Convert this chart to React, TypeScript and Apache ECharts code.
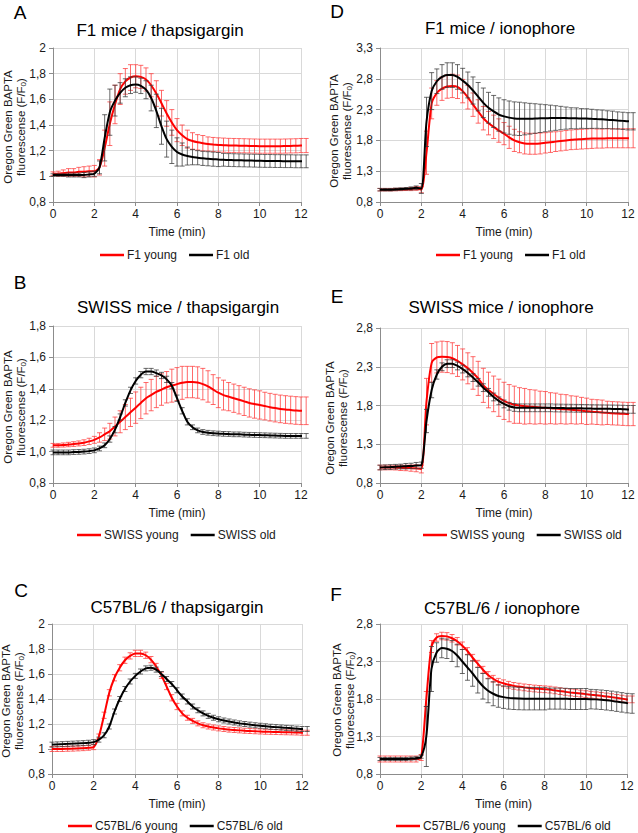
import React, { useEffect, useRef } from "react";
import * as echarts from "echarts";

const TIME = [
  0, 0.25, 0.5, 0.75, 1, 1.25, 1.5, 1.75, 2, 2.25, 2.5, 2.75, 3, 3.25, 3.5, 3.75, 4,
  4.25, 4.5, 4.75, 5, 5.25, 5.5, 5.75, 6, 6.25, 6.5, 6.75, 7, 7.25, 7.5, 7.75, 8,
  8.25, 8.5, 8.75, 9, 9.25, 9.5, 9.75, 10, 10.25, 10.5, 10.75, 11, 11.25, 11.5, 11.75, 12,
  12.25,
];

const X_TICKS = ["0", "2", "4", "6", "8", "10", "12"];
const Y_LABELS_A = ["0,8", "1", "1,2", "1,4", "1,6", "1,8", "2"];
const Y_LABELS_B = ["0,8", "1,0", "1,2", "1,4", "1,6", "1,8"];
const Y_LABELS_C = ["0,8", "1", "1,2", "1,4", "1,6", "1,8", "2"];
const Y_LABELS_D = ["0,8", "1,3", "1,8", "2,3", "2,8", "3,3"];
const Y_LABELS_E = ["0,8", "1,3", "1,8", "2,3", "2,8"];
const Y_LABELS_F = ["0,8", "1,3", "1,8", "2,3", "2,8"];

// Panel A: F1 mice / thapsigargin
const A_YOUNG = [
  1.02, 1.02, 1.025, 1.03, 1.03, 1.035, 1.035, 1.04, 1.04,
  1.07, 1.22, 1.41, 1.56, 1.68, 1.74, 1.77, 1.78,
  1.775, 1.755, 1.71, 1.645, 1.57, 1.49, 1.42, 1.36,
  1.32, 1.29, 1.275, 1.265, 1.258, 1.252, 1.248, 1.245,
  1.243, 1.241, 1.24, 1.239, 1.238, 1.237, 1.236, 1.235,
  1.235, 1.235, 1.235, 1.235, 1.236, 1.237, 1.238, 1.24,
  1.24,
];
const A_YOUNG_ERR = [
  0.015, 0.02, 0.025, 0.03, 0.03, 0.035, 0.04, 0.04, 0.045,
  0.06, 0.14, 0.17, 0.15, 0.12, 0.1, 0.1, 0.09,
  0.09, 0.09, 0.09, 0.1, 0.1, 0.1, 0.1, 0.09,
  0.08, 0.07, 0.065, 0.06, 0.06, 0.055, 0.055, 0.055,
  0.055, 0.055, 0.055, 0.055, 0.055, 0.055, 0.055, 0.055,
  0.055, 0.055, 0.055, 0.055, 0.055, 0.055, 0.055, 0.055,
  0.055,
];
const A_OLD = [
  1.01, 1.01, 1.01, 1.01, 1.01, 1.01, 1.01, 1.015, 1.02,
  1.07, 1.3, 1.5, 1.59, 1.65, 1.69, 1.71, 1.715,
  1.705, 1.675, 1.61, 1.51, 1.39, 1.29, 1.23, 1.19,
  1.17, 1.158, 1.15, 1.145, 1.14, 1.137, 1.134, 1.131,
  1.129, 1.127, 1.126, 1.125, 1.124, 1.123, 1.122, 1.121,
  1.12, 1.12, 1.119, 1.119, 1.118, 1.118, 1.117, 1.117,
  1.117,
];
const A_OLD_ERR = [
  0.01, 0.01, 0.01, 0.015, 0.015, 0.015, 0.02, 0.02, 0.02,
  0.05, 0.18, 0.18, 0.12, 0.08, 0.07, 0.065, 0.06,
  0.06, 0.07, 0.1, 0.13, 0.14, 0.14, 0.13, 0.11,
  0.09, 0.07, 0.06, 0.055, 0.055, 0.055, 0.055, 0.055,
  0.05, 0.05, 0.05, 0.05, 0.05, 0.05, 0.05, 0.05,
  0.05, 0.05, 0.05, 0.05, 0.05, 0.05, 0.05, 0.05,
  0.05,
];

// Panel B: SWISS mice / thapsigargin
const B_YOUNG = [
  1.04, 1.04, 1.042, 1.045, 1.048, 1.052, 1.057, 1.065, 1.075,
  1.09, 1.11, 1.13, 1.16, 1.19, 1.22, 1.25, 1.28,
  1.31, 1.34, 1.36, 1.38, 1.395, 1.41, 1.42, 1.43,
  1.438, 1.443, 1.443, 1.44, 1.43, 1.415, 1.395, 1.375,
  1.36, 1.35, 1.34, 1.33, 1.32, 1.31, 1.303, 1.297,
  1.29, 1.283, 1.277, 1.272, 1.268, 1.265, 1.262, 1.26,
  1.26,
];
const B_YOUNG_ERR = [
  0.012, 0.012, 0.013, 0.014, 0.015, 0.016, 0.018, 0.02, 0.022,
  0.03, 0.04, 0.05, 0.06, 0.07, 0.08, 0.09, 0.1,
  0.1, 0.1, 0.1, 0.1, 0.1, 0.1, 0.105, 0.105,
  0.105, 0.1, 0.1, 0.1, 0.1, 0.1, 0.095, 0.095,
  0.095, 0.09, 0.09, 0.09, 0.09, 0.09, 0.09, 0.09,
  0.088, 0.088, 0.088, 0.088, 0.088, 0.088, 0.088, 0.088,
  0.088,
];
const B_OLD = [
  0.995, 0.995, 0.995, 0.995, 0.997, 0.998, 1.0, 1.003, 1.008,
  1.02, 1.04, 1.08, 1.14, 1.22, 1.31, 1.39, 1.45,
  1.49, 1.51, 1.51, 1.5, 1.485, 1.46, 1.42, 1.34,
  1.26, 1.19, 1.155, 1.135, 1.125, 1.12, 1.117, 1.115,
  1.113, 1.112, 1.11, 1.11, 1.108, 1.107, 1.106, 1.105,
  1.104, 1.103, 1.102, 1.101, 1.1, 1.1, 1.1, 1.1,
  1.1,
];
const B_OLD_ERR = [
  0.015, 0.015, 0.015, 0.015, 0.015, 0.015, 0.015, 0.015, 0.015,
  0.015, 0.015, 0.02, 0.02, 0.02, 0.02, 0.02, 0.02,
  0.02, 0.02, 0.02, 0.02, 0.02, 0.02, 0.02, 0.02,
  0.02, 0.02, 0.015, 0.015, 0.015, 0.015, 0.015, 0.015,
  0.015, 0.015, 0.015, 0.015, 0.015, 0.015, 0.015, 0.015,
  0.015, 0.015, 0.015, 0.015, 0.015, 0.015, 0.015, 0.015,
  0.015,
];

// Panel C: C57BL/6 / thapsigargin
const C_YOUNG = [
  1.0, 1.0, 1.0, 1.002, 1.003, 1.005, 1.007, 1.01, 1.015,
  1.1, 1.27, 1.45, 1.57, 1.65, 1.71, 1.745, 1.765,
  1.765, 1.75, 1.715, 1.66, 1.59, 1.5, 1.41, 1.34,
  1.285, 1.25, 1.225, 1.205, 1.19, 1.18, 1.172, 1.165,
  1.16, 1.155, 1.152, 1.149, 1.146, 1.144, 1.142, 1.14,
  1.138, 1.137, 1.136, 1.135, 1.134, 1.133, 1.132, 1.13,
  1.13,
];
const C_YOUNG_ERR = [
  0.02, 0.02, 0.02, 0.02, 0.02, 0.02, 0.02, 0.02, 0.02,
  0.02, 0.025, 0.025, 0.025, 0.025, 0.025, 0.025, 0.025,
  0.025, 0.025, 0.025, 0.025, 0.025, 0.025, 0.025, 0.025,
  0.02, 0.02, 0.02, 0.02, 0.02, 0.02, 0.02, 0.02,
  0.02, 0.02, 0.02, 0.02, 0.02, 0.02, 0.02, 0.02,
  0.02, 0.02, 0.02, 0.02, 0.02, 0.02, 0.02, 0.02,
  0.02,
];
const C_OLD = [
  1.035, 1.037, 1.039, 1.041, 1.043, 1.045, 1.047, 1.05, 1.055,
  1.075, 1.11, 1.18, 1.3, 1.4, 1.48, 1.54, 1.585,
  1.62, 1.645, 1.65, 1.635, 1.6, 1.56, 1.52, 1.47,
  1.42, 1.38, 1.34, 1.31, 1.285, 1.265, 1.25, 1.238,
  1.228, 1.22, 1.212, 1.205, 1.2, 1.195, 1.19, 1.186,
  1.182, 1.178, 1.175, 1.172, 1.169, 1.166, 1.163, 1.16,
  1.16,
];
const C_OLD_ERR = [
  0.02, 0.02, 0.02, 0.02, 0.02, 0.02, 0.02, 0.02, 0.02,
  0.02, 0.02, 0.02, 0.02, 0.02, 0.02, 0.02, 0.02,
  0.02, 0.02, 0.02, 0.02, 0.02, 0.02, 0.02, 0.02,
  0.02, 0.02, 0.02, 0.02, 0.02, 0.02, 0.02, 0.02,
  0.02, 0.02, 0.02, 0.02, 0.02, 0.02, 0.02, 0.02,
  0.02, 0.02, 0.02, 0.02, 0.02, 0.02, 0.02, 0.02,
  0.02,
];

// Panel D: F1 mice / ionophore
const D_YOUNG = [
  1.0, 1.0, 1.0, 1.002, 1.004, 1.006, 1.01, 1.02, 1.0,
  1.6, 2.4, 2.57, 2.64, 2.675, 2.685, 2.67, 2.6,
  2.5, 2.38, 2.27, 2.16, 2.08, 2.02, 1.96, 1.91,
  1.85, 1.8, 1.77, 1.75, 1.745, 1.745, 1.75, 1.76,
  1.77, 1.78, 1.79, 1.8, 1.81, 1.815, 1.82, 1.825,
  1.83, 1.83, 1.83, 1.835, 1.835, 1.835, 1.835, 1.835,
  1.835,
];
const D_YOUNG_ERR = [
  0.02, 0.02, 0.02, 0.02, 0.02, 0.02, 0.025, 0.03, 0.05,
  0.35, 0.25, 0.2, 0.19, 0.19, 0.19, 0.19, 0.19,
  0.19, 0.19, 0.19, 0.19, 0.19, 0.19, 0.19, 0.18,
  0.18, 0.18, 0.17, 0.17, 0.17, 0.17, 0.17, 0.165,
  0.165, 0.16, 0.16, 0.16, 0.16, 0.16, 0.16, 0.16,
  0.16, 0.155, 0.155, 0.155, 0.155, 0.155, 0.155, 0.155,
  0.155,
];
const D_OLD = [
  1.0, 1.0, 1.0, 1.005, 1.01, 1.015, 1.02, 1.03, 1.02,
  2.1, 2.6, 2.76, 2.83, 2.86, 2.86, 2.83, 2.77,
  2.7, 2.61, 2.51, 2.41, 2.33, 2.27, 2.22, 2.19,
  2.17, 2.155, 2.15, 2.15, 2.152, 2.155, 2.158, 2.16,
  2.162, 2.163, 2.163, 2.162, 2.16, 2.158, 2.156, 2.154,
  2.15, 2.146, 2.142, 2.136, 2.13, 2.123, 2.117, 2.11,
  2.11,
];
const D_OLD_ERR = [
  0.02, 0.02, 0.02, 0.02, 0.02, 0.02, 0.025, 0.03, 0.08,
  0.4, 0.3, 0.2, 0.2, 0.2, 0.2, 0.2, 0.2,
  0.21, 0.22, 0.23, 0.24, 0.25, 0.26, 0.27, 0.27,
  0.27, 0.27, 0.27, 0.26, 0.25, 0.24, 0.23, 0.22,
  0.21, 0.2, 0.19, 0.18, 0.17, 0.17, 0.16, 0.16,
  0.155, 0.15, 0.15, 0.145, 0.145, 0.14, 0.14, 0.14,
  0.14,
];

// Panel E: SWISS mice / ionophore
const E_YOUNG = [
  1.0, 1.0, 1.0, 0.998, 0.996, 0.994, 0.992, 0.99, 0.98,
  1.85, 2.35, 2.42, 2.43, 2.425, 2.41, 2.375, 2.33,
  2.28, 2.22, 2.15, 2.06, 2.0, 1.95, 1.9, 1.86,
  1.83, 1.81, 1.8, 1.79, 1.785, 1.78, 1.775, 1.77,
  1.765, 1.76, 1.755, 1.75, 1.745, 1.74, 1.735, 1.725,
  1.72, 1.715, 1.71, 1.705, 1.7, 1.697, 1.693, 1.69,
  1.69,
];
const E_YOUNG_ERR = [
  0.03, 0.03, 0.03, 0.03, 0.035, 0.035, 0.04, 0.045, 0.05,
  0.3, 0.25, 0.2, 0.2, 0.2, 0.2, 0.2, 0.2,
  0.2, 0.21, 0.22, 0.22, 0.23, 0.23, 0.24, 0.24,
  0.24, 0.24, 0.23, 0.23, 0.22, 0.22, 0.21, 0.21,
  0.2, 0.2, 0.19, 0.19, 0.18, 0.18, 0.17, 0.17,
  0.16, 0.16, 0.16, 0.15, 0.15, 0.15, 0.15, 0.15,
  0.15,
];
const E_OLD = [
  1.0, 1.003, 1.006, 1.01, 1.013, 1.017, 1.02, 1.025, 1.03,
  1.6, 2.0, 2.2, 2.3, 2.34, 2.34, 2.31, 2.27,
  2.22, 2.16, 2.1, 2.03, 1.97, 1.91, 1.86, 1.82,
  1.79, 1.775, 1.77, 1.77, 1.77, 1.77, 1.77, 1.77,
  1.77, 1.768, 1.767, 1.766, 1.765, 1.764, 1.763, 1.762,
  1.76, 1.759, 1.758, 1.757, 1.756, 1.755, 1.753, 1.75,
  1.75,
];
const E_OLD_ERR = [
  0.03, 0.03, 0.03, 0.03, 0.03, 0.035, 0.035, 0.04, 0.04,
  0.15, 0.1, 0.06, 0.05, 0.05, 0.05, 0.05, 0.05,
  0.05, 0.05, 0.05, 0.05, 0.05, 0.05, 0.05, 0.05,
  0.05, 0.05, 0.05, 0.05, 0.05, 0.05, 0.05, 0.05,
  0.05, 0.05, 0.05, 0.05, 0.05, 0.05, 0.05, 0.05,
  0.05, 0.05, 0.05, 0.05, 0.05, 0.05, 0.05, 0.05,
  0.05,
];

// Panel F: C57BL/6 / ionophore
const F_YOUNG = [
  1.0, 1.0, 1.0, 1.0, 1.0, 1.0, 1.0, 1.0, 1.02,
  1.8, 2.5, 2.62, 2.64, 2.635, 2.61, 2.57, 2.51,
  2.44, 2.35, 2.27, 2.19, 2.12, 2.07, 2.03, 2.01,
  1.99, 1.975, 1.965, 1.955, 1.948, 1.94, 1.935, 1.93,
  1.925, 1.915, 1.905, 1.895, 1.887, 1.88, 1.873, 1.865,
  1.857, 1.85, 1.842, 1.834, 1.825, 1.815, 1.805, 1.795,
  1.795,
];
const F_YOUNG_ERR = [
  0.04, 0.04, 0.04, 0.04, 0.04, 0.04, 0.04, 0.04, 0.04,
  0.1, 0.08, 0.05, 0.05, 0.05, 0.05, 0.05, 0.05,
  0.045, 0.045, 0.045, 0.045, 0.045, 0.045, 0.045, 0.045,
  0.045, 0.045, 0.045, 0.045, 0.045, 0.045, 0.045, 0.045,
  0.045, 0.045, 0.045, 0.045, 0.045, 0.045, 0.045, 0.045,
  0.045, 0.045, 0.045, 0.045, 0.045, 0.045, 0.045, 0.045,
  0.045,
];
const F_OLD = [
  1.0, 1.0, 1.0, 1.0, 1.0, 1.0, 1.005, 1.01, 1.03,
  1.3, 2.2, 2.42, 2.48, 2.47, 2.44, 2.38, 2.3,
  2.22, 2.14, 2.05, 1.97, 1.91, 1.87, 1.84, 1.825,
  1.815, 1.81, 1.807, 1.805, 1.805, 1.805, 1.805, 1.805,
  1.805, 1.805, 1.805, 1.803, 1.8, 1.8, 1.8, 1.8,
  1.798, 1.795, 1.79, 1.783, 1.775, 1.765, 1.755, 1.745,
  1.74,
];
const F_OLD_ERR = [
  0.02, 0.02, 0.02, 0.02, 0.02, 0.02, 0.02, 0.02, 0.02,
  0.4, 0.3, 0.13, 0.13, 0.13, 0.14, 0.15, 0.16,
  0.17, 0.17, 0.17, 0.17, 0.16, 0.16, 0.15, 0.15,
  0.15, 0.15, 0.15, 0.15, 0.15, 0.15, 0.15, 0.15,
  0.14, 0.14, 0.14, 0.14, 0.14, 0.14, 0.14, 0.14,
  0.13, 0.13, 0.13, 0.13, 0.13, 0.13, 0.13, 0.13,
  0.13,
];

const FONT = "'Liberation Sans', Arial, Helvetica, sans-serif";
const TEXT = "#1a1a1a";
const RED = "#ff0000";
const BLACK = "#000000";
const RED_BAR = "#ff3b3b";
const BLACK_BAR = "#3a3a3a";
const AXIS = "#8c8c8c";
const GRIDC = "#d9d9d9";

type Panel = {
  letter: string;
  title: string;
  grid: { left: number; top: number; width: number; height: number };
  yMin: number;
  yMax: number;
  yInt: number;
  yLabels: string[];
  names: [string, string];
  young: number[];
  youngErr: number[];
  old: number[];
  oldErr: number[];
  letterPos: [number, number];
  titlePos: [number, number];
  yNamePos: [number, number];
  legendPos: [number, number];
};

const PANELS: Panel[] = [
  {
    letter: "A", title: "F1 mice / thapsigargin",
    grid: { left: 53, top: 48, width: 248, height: 154 },
    yMin: 0.8, yMax: 2, yInt: 0.2, yLabels: Y_LABELS_A,
    names: ["F1 young", "F1 old"],
    young: A_YOUNG, youngErr: A_YOUNG_ERR, old: A_OLD, oldErr: A_OLD_ERR,
    letterPos: [20, 12], titlePos: [160, 30], yNamePos: [14, 127], legendPos: [100, 249],
  },
  {
    letter: "D", title: "F1 mice / ionophore",
    grid: { left: 380, top: 48, width: 248, height: 154 },
    yMin: 0.8, yMax: 3.3, yInt: 0.5, yLabels: Y_LABELS_D,
    names: ["F1 young", "F1 old"],
    young: D_YOUNG, youngErr: D_YOUNG_ERR, old: D_OLD, oldErr: D_OLD_ERR,
    letterPos: [337, 11], titlePos: [500, 28], yNamePos: [340, 131], legendPos: [436, 249],
  },
  {
    letter: "B", title: "SWISS mice / thapsigargin",
    grid: { left: 53, top: 326, width: 248, height: 157 },
    yMin: 0.8, yMax: 1.8, yInt: 0.2, yLabels: Y_LABELS_B,
    names: ["SWISS young", "SWISS old"],
    young: B_YOUNG, youngErr: B_YOUNG_ERR, old: B_OLD, oldErr: B_OLD_ERR,
    letterPos: [20, 282], titlePos: [178, 307], yNamePos: [14, 407], legendPos: [77, 529],
  },
  {
    letter: "E", title: "SWISS mice / ionophore",
    grid: { left: 380, top: 328, width: 248, height: 155 },
    yMin: 0.8, yMax: 2.8, yInt: 0.5, yLabels: Y_LABELS_E,
    names: ["SWISS young", "SWISS old"],
    young: E_YOUNG, youngErr: E_YOUNG_ERR, old: E_OLD, oldErr: E_OLD_ERR,
    letterPos: [337, 296], titlePos: [501, 307], yNamePos: [336, 418], legendPos: [423, 529],
  },
  {
    letter: "C", title: "C57BL/6 / thapsigargin",
    grid: { left: 52, top: 624, width: 250, height: 150 },
    yMin: 0.8, yMax: 2, yInt: 0.2, yLabels: Y_LABELS_C,
    names: ["C57BL/6 young", "C57BL/6 old"],
    young: C_YOUNG, youngErr: C_YOUNG_ERR, old: C_OLD, oldErr: C_OLD_ERR,
    letterPos: [21, 590], titlePos: [177, 607], yNamePos: [12, 701], legendPos: [68, 820],
  },
  {
    letter: "F", title: "C57BL/6 / ionophore",
    grid: { left: 380, top: 624, width: 247, height: 150 },
    yMin: 0.8, yMax: 2.8, yInt: 0.5, yLabels: Y_LABELS_F,
    names: ["C57BL/6 young", "C57BL/6 old"],
    young: F_YOUNG, youngErr: F_YOUNG_ERR, old: F_OLD, oldErr: F_OLD_ERR,
    letterPos: [336, 594], titlePos: [502, 608], yNamePos: [343, 700], legendPos: [396, 820],
  },
];

function errorRenderer(color: string) {
  return (_params: any, api: any) => {
    const x = api.value(0);
    const m = api.value(1);
    const e = api.value(2);
    const top = api.coord([x, m + e]);
    const bot = api.coord([x, m - e]);
    const hw = 2.5;
    const style = { stroke: color, lineWidth: 0.9, opacity: 0.85 };
    return {
      type: "group",
      children: [
        { type: "line", shape: { x1: top[0], y1: top[1], x2: bot[0], y2: bot[1] }, style },
        { type: "line", shape: { x1: top[0] - hw, y1: top[1], x2: top[0] + hw, y2: top[1] }, style },
        { type: "line", shape: { x1: bot[0] - hw, y1: bot[1], x2: bot[0] + hw, y2: bot[1] }, style },
      ],
    };
  };
}

function buildOption() {
  const grids: any[] = [];
  const xAxes: any[] = [];
  const yAxes: any[] = [];
  const series: any[] = [];
  const legends: any[] = [];
  const graphics: any[] = [];

  PANELS.forEach((p, i) => {
    grids.push({ ...p.grid, containLabel: false });
    xAxes.push({
      gridIndex: i,
      type: "value",
      min: 0,
      max: 12,
      interval: 2,
      axisLine: { show: true, onZero: false, lineStyle: { color: AXIS, width: 1 } },
      axisTick: { show: true, length: 4, lineStyle: { color: AXIS } },
      axisLabel: {
        fontSize: 12, color: TEXT, fontFamily: FONT, margin: 6,
        formatter: (v: number) => X_TICKS[Math.round(v / 2)] ?? "",
      },
      splitLine: { show: true, lineStyle: { color: GRIDC, width: 1 } },
      name: "Time (min)",
      nameLocation: "middle",
      nameGap: 24,
      nameTextStyle: { fontSize: 12, color: TEXT, fontFamily: FONT },
    });
    yAxes.push({
      gridIndex: i,
      type: "value",
      min: p.yMin,
      max: p.yMax,
      interval: p.yInt,
      axisLine: { show: true, onZero: false, lineStyle: { color: AXIS, width: 1 } },
      axisTick: { show: true, length: 4, lineStyle: { color: AXIS } },
      axisLabel: {
        fontSize: 12, color: TEXT, fontFamily: FONT, margin: 7,
        formatter: (v: number) => p.yLabels[Math.round((v - p.yMin) / p.yInt)] ?? "",
      },
      splitLine: { show: true, lineStyle: { color: GRIDC, width: 1 } },
    });

    const youngData = TIME.map((t, k) => [t, p.young[k], p.youngErr[k]]);
    const oldData = TIME.map((t, k) => [t, p.old[k], p.oldErr[k]]);

    series.push({
      type: "custom",
      name: p.names[0] + " err",
      xAxisIndex: i,
      yAxisIndex: i,
      data: youngData,
      encode: { x: 0, y: 1 },
      renderItem: errorRenderer(RED_BAR),
      clip: false,
      z: 2,
      silent: true,
    });
    series.push({
      type: "line",
      name: p.names[0],
      xAxisIndex: i,
      yAxisIndex: i,
      data: youngData.map((d) => [d[0], d[1]]),
      symbol: "none",
      smooth: 0.25,
      lineStyle: { color: RED, width: 2 },
      itemStyle: { color: RED },
      clip: true,
      z: 3,
    });
    series.push({
      type: "custom",
      name: p.names[1] + " err",
      xAxisIndex: i,
      yAxisIndex: i,
      data: oldData,
      encode: { x: 0, y: 1 },
      renderItem: errorRenderer(BLACK_BAR),
      clip: false,
      z: 4,
      silent: true,
    });
    series.push({
      type: "line",
      name: p.names[1],
      xAxisIndex: i,
      yAxisIndex: i,
      data: oldData.map((d) => [d[0], d[1]]),
      symbol: "none",
      smooth: 0.25,
      lineStyle: { color: BLACK, width: 2 },
      itemStyle: { color: BLACK },
      clip: true,
      z: 5,
    });

    legends.push({
      data: [p.names[0], p.names[1]],
      left: p.legendPos[0],
      top: p.legendPos[1],
      icon: "rect",
      itemWidth: 24,
      itemHeight: 2.5,
      itemGap: 12,
      padding: 0,
      selectedMode: false,
      textStyle: { fontSize: 12, color: TEXT, fontFamily: FONT, padding: [0, 0, 0, -2] },
    });

    graphics.push({
      type: "text",
      x: p.letterPos[0],
      y: p.letterPos[1],
      style: {
        text: p.letter, fontSize: 19, fontFamily: FONT, fill: "#000",
        align: "center", verticalAlign: "middle",
      },
    });
    graphics.push({
      type: "text",
      x: p.titlePos[0],
      y: p.titlePos[1],
      style: {
        text: p.title, fontSize: 17, fontFamily: FONT, fill: "#000",
        align: "center", verticalAlign: "middle",
      },
    });
    graphics.push({
      type: "text",
      x: p.yNamePos[0],
      y: p.yNamePos[1],
      rotation: Math.PI / 2,
      style: {
        text: "Oregon Green BAPTA\nfluorescense (F/F{sub|0})",
        fontSize: 11.5,
        lineHeight: 13,
        fontFamily: FONT,
        fill: TEXT,
        align: "center",
        verticalAlign: "middle",
        rich: {
          sub: { fontSize: 8, fontFamily: FONT, fill: TEXT, verticalAlign: "bottom", lineHeight: 13, padding: [4, 0, 0, 0] },
        },
      },
    });
  });

  return {
    animation: false,
    backgroundColor: "#ffffff",
    grid: grids,
    xAxis: xAxes,
    yAxis: yAxes,
    legend: legends,
    series,
    graphic: graphics,
  };
}

export default function App() {
  const ref = useRef<HTMLDivElement>(null);
  useEffect(() => {
    document.body.style.margin = "0";
    if (!ref.current) return;
    const chart = echarts.init(ref.current, null, { renderer: "svg" });
    chart.setOption(buildOption() as any);
    return () => chart.dispose();
  }, []);
  return (
    <div
      ref={ref}
      style={{ position: "absolute", left: 0, top: 0, width: 638, height: 833, background: "#fff" }}
    />
  );
}
